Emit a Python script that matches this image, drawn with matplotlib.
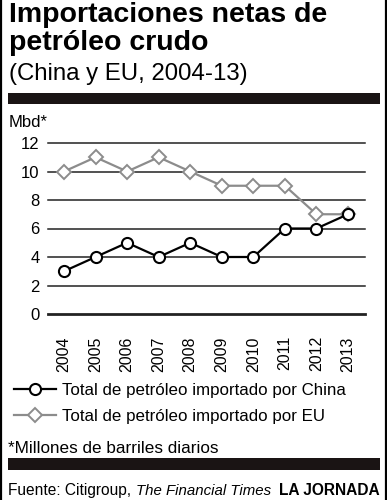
import matplotlib
matplotlib.use("Agg")
import matplotlib.pyplot as plt
from matplotlib.patches import Rectangle
from matplotlib.lines import Line2D

plt.rcParams['font.family'] = ['Liberation Sans', 'DejaVu Sans']

# data
years = [2004, 2005, 2006, 2007, 2008, 2009, 2010, 2011, 2012, 2013]
china = [3, 4, 5, 4, 5, 4, 4, 6, 6, 7]
eu = [10, 11, 10, 11, 10, 9, 9, 9, 7, 7]
y_ticks = [0, 2, 4, 6, 8, 10, 12]
labels = ['Total de petróleo importado por China', 'Total de petróleo importado por EU']

W, H = 387, 500


def fx(px):
    return px / W


def fy(py):
    return 1 - py / H


fig = plt.figure(figsize=(W / 100, H / 100), dpi=100)

# frame borders and black bars
fig.add_artist(Line2D([fx(1), fx(1)], [0, 1], color='black', lw=1.6))
fig.add_artist(Line2D([fx(385.5), fx(385.5)], [0, 1], color='black', lw=1.6))
fig.add_artist(Rectangle((fx(8), fy(104)), fx(380) - fx(8), fy(93) - fy(104), color='#1a1414', lw=0))
fig.add_artist(Rectangle((fx(8), fy(470)), fx(380) - fx(8), fy(458) - fy(470), color='#1a1414', lw=0))

# titles
fig.text(fx(9), fy(22), 'Importaciones netas de', fontsize=20.5, fontweight='bold', va='baseline')
fig.text(fx(9), fy(50), 'petróleo crudo', fontsize=20.5, fontweight='bold', va='baseline')
fig.text(fx(9), fy(80), '(China y EU, 2004-13)', fontsize=17.3, va='baseline')
fig.text(fx(9), fy(127), 'Mbd*', fontsize=12, va='baseline')

# chart
ax = fig.add_axes([fx(48), fy(314), fx(365) - fx(48), fy(143) - fy(314)])
step = (348 - 64) / 9
ax.set_xlim(2004 - 16 / step, 2013 + 17 / step)
ax.set_ylim(0, 12)
for v in y_ticks:
    ax.axhline(v, color='#222222', lw=2.0 if v == 0 else 1.1, zorder=1, clip_on=False)

ax.plot(years, eu, color='#8c8c8c', lw=1.6, marker='D', markersize=7.5,
        markerfacecolor='white', markeredgecolor='#8c8c8c', markeredgewidth=1.4,
        clip_on=False, zorder=3, label=labels[1])
ax.plot(years, china, color='black', lw=1.6, marker='o', markersize=8,
        markerfacecolor='white', markeredgecolor='black', markeredgewidth=1.5,
        clip_on=False, zorder=4, label=labels[0])

for s in ax.spines.values():
    s.set_visible(False)
ax.set_yticks(y_ticks)
ax.set_yticklabels([str(v) for v in y_ticks], fontsize=12)
ax.set_xticks(years)
ax.set_xticklabels([str(y) for y in years], rotation=90, fontsize=11.5)
ax.tick_params(axis='both', length=0)
ax.tick_params(axis='y', pad=6)
ax.tick_params(axis='x', pad=16)

handles, labs = ax.get_legend_handles_labels()
leg = fig.legend(handles[::-1], labs[::-1], loc='upper left',
                 bbox_to_anchor=(fx(14), fy(383)), frameon=False, fontsize=12.2,
                 handlelength=2.5, handletextpad=0.35, labelspacing=0.65,
                 borderpad=0, borderaxespad=0)

# footer
fig.text(fx(8), fy(453), '*Millones de barriles diarios', fontsize=12.3, va='baseline')
fig.text(fx(8), fy(495), 'Fuente: Citigroup,', fontsize=11.2, va='baseline')
fig.text(fx(136), fy(495), 'The Financial Times', fontsize=10.8, style='italic', va='baseline')
fig.text(fx(380), fy(495), 'LA JORNADA', fontsize=11.2, fontweight='bold', va='baseline', ha='right')

fig.savefig('out.png', dpi=100)
